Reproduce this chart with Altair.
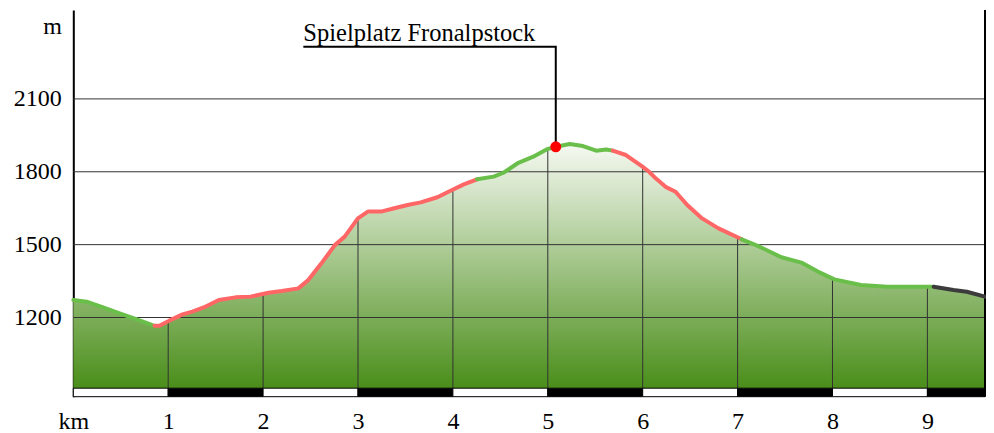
import altair as alt
import pandas as pd

# ---------------- data ----------------
# Elevation profile, split into coloured segments (consecutive segments share end points)
seg_kind = ["A", "B", "A", "B", "A", "C"]
seg_km = [
    [0.0, 0.14, 0.314, 0.488, 0.663, 0.855],
    [0.855, 0.907, 1.011, 1.151, 1.255, 1.395, 1.534, 1.709, 1.866, 2.058, 2.197, 2.371,
     2.476, 2.615, 2.756, 2.860, 2.999, 3.104, 3.243, 3.383, 3.522, 3.661, 3.836, 3.975,
     4.115, 4.254],
    [4.254, 4.429, 4.533, 4.690, 4.847, 4.986, 5.084, 5.231, 5.371, 5.510, 5.614, 5.684],
    [5.684, 5.823, 5.998, 6.067, 6.137, 6.241, 6.346, 6.469, 6.626, 6.799, 7.044],
    [7.044, 7.218, 7.462, 7.672, 7.845, 8.020, 8.299, 8.578, 8.822, 9.066],
    [9.066, 9.275, 9.415, 9.607],
]
seg_m = [
    [1272, 1265, 1242, 1217, 1193, 1166],
    [1166, 1166, 1187, 1213, 1224, 1245, 1272, 1283, 1286, 1302, 1309, 1320,
     1354, 1423, 1498, 1533, 1608, 1636, 1636, 1650, 1663, 1674, 1695, 1722,
     1748, 1769],
    [1769, 1780, 1796, 1837, 1862, 1892, 1903, 1914, 1906, 1887, 1892, 1887],
    [1887, 1869, 1821, 1800, 1773, 1738, 1718, 1663, 1608, 1567, 1522],
    [1522, 1494, 1448, 1426, 1389, 1357, 1334, 1327, 1327, 1327],
    [1327, 1313, 1306, 1286],
]

# vertical km gridlines and the elevation where they meet the profile
grid_km = [1, 2, 3, 4, 5, 6, 7, 8, 9]
grid_top_m = [1184, 1295, 1608, 1723, 1890, 1821, 1531, 1359, 1327]

# horizontal gridlines / y tick labels
y_grid = [1200, 1500, 1800, 2100]
y_ticks = [1200, 1500, 1800, 2100, 2400]   # 2400 carries the unit "m"
x_ticks = [0, 1, 2, 3, 4, 5, 6, 7, 8, 9]   # 0 carries the unit "km"

# scale bar segment edges (km)
bar_edges = [0, 1, 2, 3, 4, 5, 6, 7, 8, 9, 9.607]

# point of interest
poi_name = "Spielplatz Fronalpstock"
poi_km = 5.084
poi_m = 1903

# ---------------- layout constants ----------------
X_MAX = 9.607
Y_MIN, Y_MAX = 874, 2466
BASE = 909           # bottom of the filled profile
LABEL_KM = 2.424     # start of annotation text / leader line
LABEL_M = 2339       # annotation text baseline
LEADER_M = 2315      # horizontal leader line

FONT = "Liberation Serif"

# ---------------- build tables ----------------
rows = []
for s, (kind, kms, ms) in enumerate(zip(seg_kind, seg_km, seg_m)):
    for i, (k, m) in enumerate(zip(kms, ms)):
        rows.append({"seg": s, "kind": kind, "km": k, "m": m, "i": i})
lines_df = pd.DataFrame(rows)
area_df = lines_df.drop_duplicates(subset=["km"]).sort_values("km")[["km", "m"]].copy()
area_df["base"] = BASE

vgrid_df = pd.DataFrame({"km": grid_km, "top": grid_top_m, "base": BASE})
hgrid_df = pd.DataFrame({"m": y_grid, "x0": 0.0, "x1": X_MAX})
bar_df = pd.DataFrame({
    "a": bar_edges[:-1],
    "b": bar_edges[1:],
    "lo": Y_MIN,
    "hi": BASE,
    "fill": ["w" if i % 2 == 0 else "k" for i in range(len(bar_edges) - 1)],
})
border_df = pd.DataFrame({"km": [X_MAX], "lo": [Y_MIN], "hi": [Y_MAX]})
poi_df = pd.DataFrame({"km": [poi_km], "m": [poi_m], "name": [poi_name]})
leader_df = pd.DataFrame({
    "km": [LABEL_KM, poi_km, poi_km],
    "m": [LEADER_M, LEADER_M, poi_m],
    "o": [0, 1, 2],
})
label_df = pd.DataFrame({"km": [LABEL_KM], "m": [LABEL_M], "name": [poi_name]})

xs = alt.Scale(domain=[0, X_MAX], nice=False, zero=False)
ys = alt.Scale(domain=[Y_MIN, Y_MAX], nice=False, zero=False)

x_axis = alt.Axis(
    values=x_ticks, format="d",
    labelExpr="datum.value == 0 ? 'km' : datum.label",
    domain=False, ticks=False, grid=False, title=None,
    labelFont=FONT, labelFontSize=24, labelColor="black",
    labelPadding=13, labelBaseline="top", labelFlush=False, labelOverlap=False,
)
y_axis = alt.Axis(
    values=y_ticks, format="d",
    labelExpr="datum.value == 2400 ? 'm' : datum.label",
    domain=True, domainColor="black", domainWidth=2,
    ticks=False, grid=False, title=None,
    labelFont=FONT, labelFontSize=24, labelColor="black",
    labelPadding=12, labelBaseline="middle", labelOverlap=False,
)


def X(field):
    return alt.X(field, scale=xs, axis=x_axis)


def Y(field):
    return alt.Y(field, scale=ys, axis=y_axis)


gradient = alt.Gradient(
    gradient="linear",
    stops=[
        alt.GradientStop(color="#f6f9f2", offset=0),
        alt.GradientStop(color="#4a8e1a", offset=1),
    ],
    x1=0, x2=0, y1=0, y2=1,
)

area = alt.Chart(area_df).mark_area(color=gradient).encode(
    x=X("km:Q"), y=Y("m:Q"), y2="base:Q",
)

vgrid = alt.Chart(vgrid_df).mark_rule(color="#333333", strokeWidth=1).encode(
    x=X("km:Q"), y=Y("base:Q"), y2="top:Q",
)

hgrid = alt.Chart(hgrid_df).mark_rule(color="#333333", strokeWidth=1).encode(
    y=Y("m:Q"), x=X("x0:Q"), x2="x1:Q",
)

scalebar = alt.Chart(bar_df).mark_rect(stroke="black", strokeWidth=1).encode(
    x=X("a:Q"), x2="b:Q", y=Y("lo:Q"), y2="hi:Q",
    fill=alt.Fill("fill:N", scale=alt.Scale(domain=["w", "k"], range=["white", "black"]), legend=None),
)

right_border = alt.Chart(border_df).mark_rule(color="black", strokeWidth=2).encode(
    x=X("km:Q"), y=Y("lo:Q"), y2="hi:Q",
)

profile = alt.Chart(lines_df).mark_line(strokeWidth=4, strokeCap="round", strokeJoin="round").encode(
    x=X("km:Q"), y=Y("m:Q"),
    detail="seg:N",
    order="i:Q",
    color=alt.Color("kind:N", scale=alt.Scale(domain=["A", "B", "C"],
                                              range=["#6abf4b", "#ff6666", "#3c3c3c"]), legend=None),
)

leader = alt.Chart(leader_df).mark_line(color="black", strokeWidth=2).encode(
    x=X("km:Q"), y=Y("m:Q"), order="o:Q",
)

marker = alt.Chart(poi_df).mark_point(filled=True, shape="circle", size=120, color="#ff0000", opacity=1).encode(
    x=X("km:Q"), y=Y("m:Q"),
)

label = alt.Chart(label_df).mark_text(
    align="left", baseline="alphabetic", font=FONT, fontSize=24.5, color="black"
).encode(
    x=X("km:Q"), y=Y("m:Q"), text="name:N",
)

chart = alt.layer(
    area, vgrid, hgrid, scalebar, right_border, profile, leader, marker, label
).resolve_scale(color="independent", fill="independent").properties(
    width=911.7,
    height=386.7,
    padding={"left": 65.3, "top": 2, "right": 1, "bottom": 36.3},
    autosize=alt.AutoSizeParams(type="none"),
    background="white",
).configure_view(stroke=None)

chart.save("out.html", embed_options={"renderer": "svg", "actions": False})
